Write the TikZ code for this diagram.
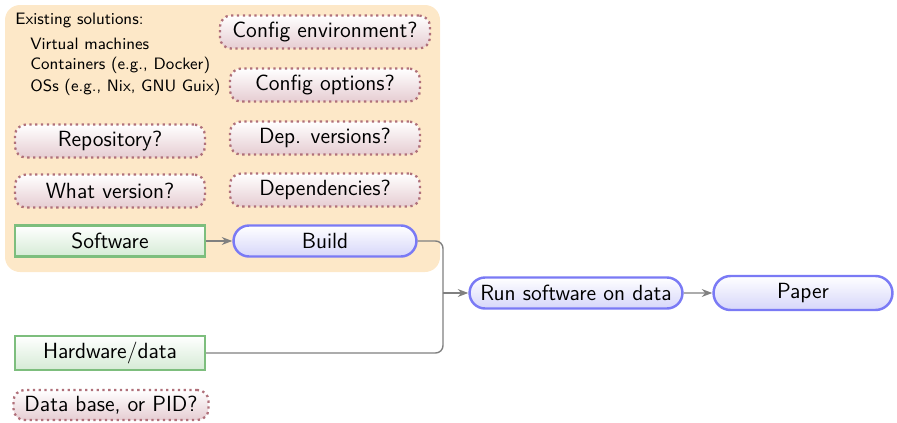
\documentclass[tikz,border=0pt]{standalone}
\usepackage{tikz}
\usetikzlibrary{shapes.misc,arrows.meta}

\definecolor{solbg}{HTML}{FDE8C8}
\definecolor{askred}{HTML}{B0707A}
\definecolor{askfill}{HTML}{E6CDD2}
\definecolor{stepblue}{HTML}{7A7AF5}
\definecolor{stepfill}{HTML}{D6D6FA}
\definecolor{ingreen}{HTML}{7DBE7D}
\definecolor{infill}{HTML}{D5EBD5}

\tikzset{
  every node/.style={font=\sffamily\fontsize{12.5}{14}\selectfont},
  question/.style={draw=askred, line width=1.3pt, dotted, rounded corners=0.22cm,
    top color=white, bottom color=askfill, minimum width=3.8cm, minimum height=0.66cm},
  input/.style={draw=ingreen, line width=1.3pt, top color=white, bottom color=infill,
    minimum width=3.8cm, minimum height=0.62cm},
  process/.style={rounded rectangle, draw=stepblue, line width=1.4pt, top color=white,
    bottom color=stepfill, minimum width=3.8cm, minimum height=0.62cm, inner xsep=2pt},
  conn/.style={draw=gray, thick, rounded corners=0.15cm},
  small/.style={font=\sffamily\fontsize{9.4}{11}\selectfont, anchor=west, inner sep=0pt}
}

\begin{document}
\begin{tikzpicture}[x=0.02cm,y=-0.02cm]
\useasboundingbox (0,0) rectangle (897,423);
\fill[solbg, rounded corners=0.3cm] (5,5) rectangle (440,272);

\node[small] (exist) at (15,20) {Existing solutions:};
\node[small] (vm) at (30,44) {Virtual machines};
\node[small] (cont) at (30,65) {Containers (e.g., Docker)};
\node[small] (os) at (30,87) {OSs (e.g., Nix, GNU Guix)};

\node[question, minimum width=4.2cm] (env) at (325,32) {Config environment?};
\node[question] (opts) at (325,85) {Config options?};
\node[question] (repo) at (110,141) {Repository?};
\node[question] (depver) at (325,138) {Dep. versions?};
\node[question] (ver) at (110,191) {What version?};
\node[question] (deps) at (325,190) {Dependencies?};
\node[question, minimum width=3.9cm, minimum height=0.6cm, inner xsep=2pt] (pid) at (111,405) {Data base, or PID?};

\node[input] (soft) at (110,241) {Software};
\node[input, minimum height=0.66cm] (hw) at (110,353) {Hardware/data};

\node[process] (build) at (325,241) {Build};
\node[process, minimum width=4.4cm] (run) at (576,293) {Run software on data};
\node[process, minimum width=3.72cm, minimum height=0.68cm] (paper) at (803,293) {Paper};

\coordinate (join) at (443,293);
\draw[conn,-{Stealth[length=6pt]}] (soft) -- (build);
\draw[conn] (build.east) -| (join);
\draw[conn] (hw.east) -| (join);
\draw[conn,-{Stealth[length=6pt]}] (join) -- (run.west);
\draw[conn,-{Stealth[length=6pt]}] (run) -- (paper);
\end{tikzpicture}
\end{document}
